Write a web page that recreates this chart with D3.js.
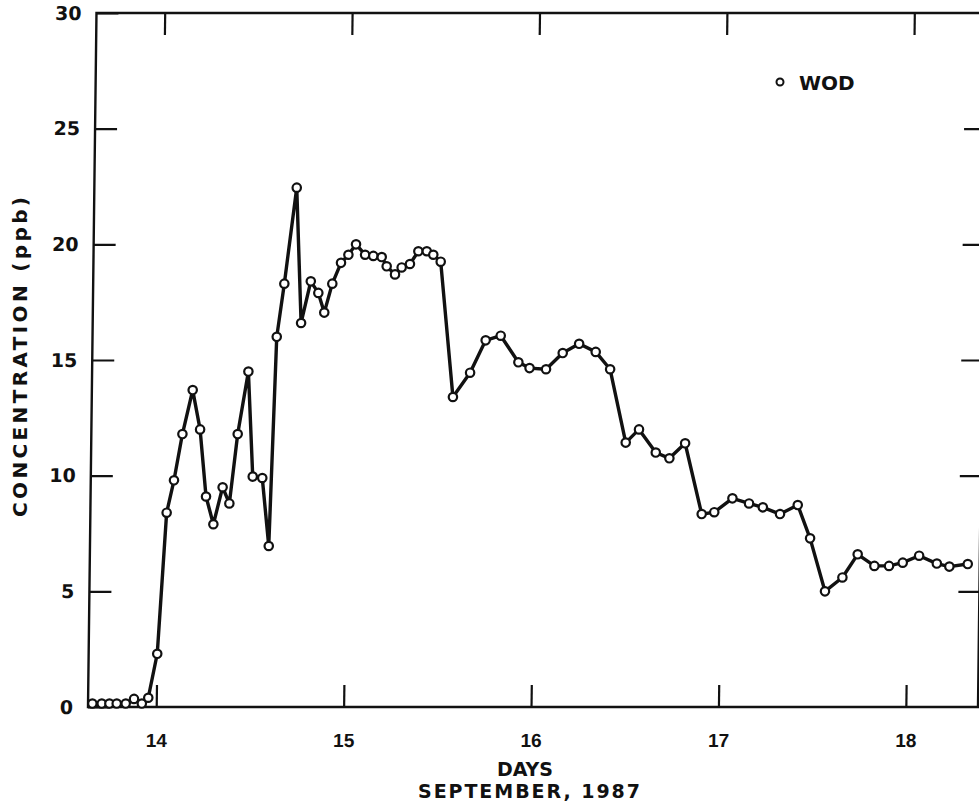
<!DOCTYPE html>
<html>
<head>
<meta charset="utf-8">
<script src="https://cdn.jsdelivr.net/npm/d3@7"></script>
<style>
  body { margin: 0; background: #fff; }
  svg { display: block; }
  .lbl { font-family: "DejaVu Sans", sans-serif; font-weight: bold; fill: #111; }
  .xl { font-family: "Liberation Sans", Arial, sans-serif; font-weight: bold; fill: #111; }
</style>
</head>
<body>
<svg width="979" height="808"></svg>
<script>
// WOD concentration (days in September 1987, ppb)
var days = [13.659, 13.709, 13.750, 13.789, 13.837, 13.881, 13.923, 13.957, 14.002, 14.043,
  14.080, 14.122, 14.174, 14.216, 14.252, 14.293, 14.340, 14.377, 14.417, 14.470,
  14.500, 14.551, 14.590, 14.619, 14.656, 14.716, 14.748, 14.797, 14.838, 14.871,
  14.912, 14.957, 14.996, 15.036, 15.085, 15.129, 15.174, 15.201, 15.246, 15.281,
  15.325, 15.369, 15.414, 15.449, 15.489, 15.563, 15.653, 15.734, 15.814, 15.910,
  15.970, 16.058, 16.146, 16.233, 16.322, 16.400, 16.488, 16.558, 16.649, 16.722,
  16.805, 16.898, 16.965, 17.061, 17.150, 17.224, 17.316, 17.410, 17.478, 17.561,
  17.653, 17.733, 17.823, 17.901, 17.974, 18.061, 18.156, 18.223, 18.321];
var wod = [0.15, 0.15, 0.15, 0.15, 0.15, 0.35, 0.15, 0.4, 2.3, 8.4,
  9.8, 11.8, 13.7, 12.0, 9.1, 7.9, 9.5, 8.8, 11.8, 14.5,
  9.96, 9.9, 6.96, 16.0, 18.3, 22.45, 16.6, 18.4, 17.9, 17.05,
  18.3, 19.2, 19.55, 20.0, 19.55, 19.5, 19.45, 19.05, 18.7, 19.0,
  19.15, 19.7, 19.7, 19.55, 19.25, 13.4, 14.45, 15.85, 16.05, 14.9,
  14.65, 14.6, 15.3, 15.7, 15.35, 14.6, 11.43, 12.0, 11.0, 10.75,
  11.4, 8.34, 8.42, 9.02, 8.8, 8.63, 8.34, 8.73, 7.29, 5.0,
  5.6, 6.6, 6.1, 6.1, 6.24, 6.54, 6.2, 6.07, 6.18];
var dayTicks = [14, 15, 16, 17, 18];
var concTicks = [0, 5, 10, 15, 20, 25, 30];

var svg = d3.select('svg');
var plotLeft = 88, plotRight = 978, plotTop = 13, plotBottom = 707;

var x = d3.scaleLinear().domain([13.636, 18.385]).range([plotLeft, plotRight]);
var y = d3.scaleLinear().domain([0, 30]).range([plotBottom, plotTop]);

// the scanned original leans: verticals drift right going up
var g = svg.append('g')
  .attr('transform', 'translate(0,' + plotBottom + ') skewX(-0.7) translate(0,' + (-plotBottom) + ')');

// frame
g.append('rect')
  .attr('x', plotLeft).attr('y', plotTop)
  .attr('width', plotRight - plotLeft).attr('height', plotBottom - plotTop)
  .attr('fill', 'none').attr('stroke', '#111').attr('stroke-width', 2.4);

var bottomAxis = g.append('g')
  .attr('transform', 'translate(0,' + plotBottom + ')')
  .call(d3.axisBottom(x).tickValues(dayTicks).tickSizeInner(-22).tickSizeOuter(0).tickFormat(d3.format('d')));

bottomAxis.selectAll('text')
  .attr('class', 'xl')
  .attr('y', 40).attr('dy', null)
  .style('font-size', '19px');

g.append('g')
  .attr('transform', 'translate(0,' + plotTop + ')')
  .call(d3.axisTop(x).tickValues(dayTicks).tickSizeInner(-22).tickSizeOuter(0).tickFormat(''));

var leftAxis = g.append('g')
  .attr('transform', 'translate(' + plotLeft + ',0)')
  .call(d3.axisLeft(y).tickValues(concTicks).tickSizeInner(-22).tickSizeOuter(0).tickPadding(15));

leftAxis.selectAll('text')
  .attr('class', 'lbl')
  .style('font-size', '19px');

g.append('g')
  .attr('transform', 'translate(' + plotRight + ',0)')
  .call(d3.axisRight(y).tickValues([5, 10, 15, 20, 25]).tickSizeInner(-21).tickSizeOuter(0).tickFormat(''));

g.selectAll('.domain').remove();
g.selectAll('.tick line').attr('stroke', '#111').attr('stroke-width', 2.2);

// series
var pts = d3.zip(days, wod);

var line = d3.line()
  .x(function(d) { return x(d[0]); })
  .y(function(d) { return y(d[1]); });

g.append('path')
  .datum(pts)
  .attr('d', line)
  .attr('fill', 'none')
  .attr('stroke', '#111')
  .attr('stroke-width', 3.4)
  .attr('stroke-linejoin', 'round');

g.selectAll('circle.pt')
  .data(pts)
  .join('circle')
  .attr('class', 'pt')
  .attr('cx', function(d) { return x(d[0]); })
  .attr('cy', function(d) { return y(d[1]); })
  .attr('r', 4.2)
  .attr('fill', '#fff')
  .attr('stroke', '#111')
  .attr('stroke-width', 2.2);

// legend
svg.append('circle')
  .attr('cx', 780).attr('cy', 82).attr('r', 3.5)
  .attr('fill', '#fff').attr('stroke', '#111').attr('stroke-width', 2);
svg.append('text')
  .attr('class', 'lbl')
  .attr('x', 799).attr('y', 90)
  .style('font-size', '20px')
  .text('WOD');

// axis titles
svg.append('text')
  .attr('class', 'lbl')
  .attr('transform', 'translate(27,357) rotate(-90)')
  .attr('text-anchor', 'middle')
  .attr('textLength', 320)
  .attr('lengthAdjust', 'spacing')
  .style('font-size', '20px')
  .text('CONCENTRATION (ppb)');

svg.append('text')
  .attr('class', 'lbl')
  .attr('x', 525).attr('y', 776)
  .attr('text-anchor', 'middle')
  .style('font-size', '19px')
  .text('DAYS');

svg.append('text')
  .attr('class', 'lbl')
  .attr('x', 529).attr('y', 798)
  .attr('text-anchor', 'middle')
  .attr('textLength', 222)
  .attr('lengthAdjust', 'spacing')
  .style('font-size', '19px')
  .text('SEPTEMBER, 1987');
</script>
</body>
</html>
